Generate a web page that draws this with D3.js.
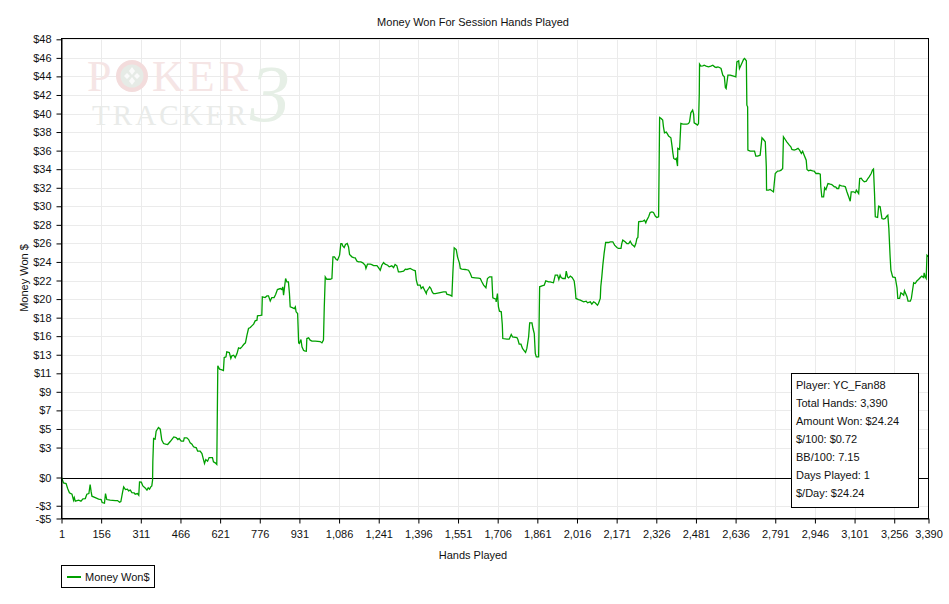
<!DOCTYPE html>
<html><head><meta charset="utf-8">
<script src="https://cdn.jsdelivr.net/npm/d3@7"></script>
<style>
body{margin:0;background:#fff}
svg{display:block}
text{font-family:"Liberation Sans",Arial,sans-serif}
text.wm{font-family:"Liberation Serif","DejaVu Serif",serif}
</style>
</head><body>
<svg id="c" width="949" height="604"></svg>
<script>
const title = "Money Won For Session Hands Played";
const xLabel = "Hands Played";
const yLabel = "Money Won $";
const seriesName = "Money Won$";

const hands = [1,9,19,25,32,42,48,51,55,68,77,85,94,100,108,113,117,120,133,146,156,160,169,173,178,191,211,220,228,233,240,244,251,259,263,270,276,285,289,298,303,306,313,319,328,335,340,345,350,354,357,358,361,367,371,380,387,393,400,408,416,426,432,440,449,456,461,469,478,481,491,498,504,511,517,528,533,543,550,556,560,565,572,578,591,595,602,608,610,612,619,628,634,637,644,647,657,663,667,674,680,687,693,700,706,713,720,726,732,739,745,752,758,765,767,778,784,
786,797,804,810,817,823,832,838,845,856,862,866,869,873,877,882,888,892,895,903,911,915,918,924,928,931,937,941,947,951,958,960,967,973,980,993,1012,1019,1025,1028,1032,1038,1051,1058,1062,1068,1075,1080,1088,1093,1097,1101,1106,1111,1118,1123,1127,1136,1143,1149,1156,1162,1171,1179,1188,1191,1197,1208,1214,1221,1234,1240,1247,1253,1260,1266,1276,1282,1292,1299,1305,1312,1318,1325,1338,1345,1351,1364,1377,1384,1388,1393,1403,1407,1414,1419,1427,1429,1436,1440,1445,1450,1455,1462,1481,1494,1504,1507,1520,1527,1531,1536,1544,1549,1557,1560,1566,1579,1592,1599,1605,1618,1631,1638,
1644,1651,1660,1666,1674,1683,1687,1692,1699,1700,1705,1709,1713,1720,1724,1726,1742,1751,1759,1764,1781,1785,1790,1797,1803,1810,1815,1820,1827,1831,1840,1844,1849,1853,1857,1866,1868,1870,1879,1888,1894,1905,1911,1924,1931,1940,1945,1950,1954,1961,1970,1974,1979,1983,1990,1997,2005,2009,2012,2022,2029,2042,2052,2057,2068,2074,2081,2087,2096,2100,2107,2109,2113,2117,2122,2128,2139,2146,2156,2163,2172,2178,2188,2191,2195,2204,2211,2218,2224,2231,2237,2241,2246,2250,2254,2257,2263,2274,2280,2285,2289,2296,2302,2309,2315,2322,2328,2335,
2337,2339,2345,2351,2354,2358,2365,2370,2374,2383,2387,2391,2394,2400,2404,2409,2410,2417,2422,2430,2446,2452,2456,2461,2468,2472,2474,2482,2487,2491,2494,2495,2500,2508,2513,2521,2530,2539,2547,2554,2560,2567,2573,2579,2586,2592,2596,2599,2602,2606,2615,2628,2637,2641,2648,2651,2657,2663,2667,2671,2678,2680,2683,2684,2693,2710,2715,2722,2732,2739,2745,2752,2756,2757,2765,2771,2778,2784,2787,2791,2800,2808,2814,2820,2823,2830,2836,2846,2852,2856,2865,2873,2880,2886,2893,2898,2904,2912,2915,2921,2928,2937,2943,2950,2960,2967,2969,2973,2980,2984,2989,2997,3006,3012,3022,3027,3032,3039,3042,3050,3058,3065,3071,3078,3084,3088,3097,3104,3108,3117,3121,3127,3132,3139,3147,3153,3158,3166,3171,3175,3179,3182,3191,3195,3201,3208,3214,3221,3227,3231,3235,3240,3243,3250,3260,3267,3270,3277,3282,3286,3293,3296,3302,3306,3310,3319,3323,3328,3332,3338,3345,3351,3358,3364,3371,3373,3377,3381,3384,3390];

const won = [0,-0.59,-0.66,-1.21,-1.68,-1.83,-2.49,-2.20,-2.60,-2.49,-2.60,-2.34,-2.31,-1.83,-1.76,-0.77,-1.58,-2.05,-2.20,-2.38,-2.42,-2.75,-2.82,-1.76,-2.42,-2.49,-2.53,-2.53,-2.71,-2.64,-1.58,-1.03,-1.32,-1.28,-1.47,-1.39,-1.65,-1.68,-1.83,-1.76,-1.94,-0.48,-0.51,-0.92,-1.14,-1.39,-1.14,-1.28,-1.03,-0.92,-0.29,1.72,4.28,4.21,5.09,5.49,5.31,4.10,3.73,3.66,3.62,3.95,4.17,4.46,4.39,4.17,4.28,3.99,3.99,4.35,4.35,4.17,3.80,3.66,3.37,3.26,2.89,2.89,2.63,1.97,1.54,1.97,1.79,2.19,2.19,1.72,1.61,1.43,6.84,12.26,11.89,11.82,11.75,13.17,13.25,13.80,13.72,13.07,13.36,13.43,13.17,13.61,14.24,14.16,14.35,14.60,14.79,15.63,16.36,16.47,16.65,16.84,17.20,17.27,17.75,17.79,17.82,
19.83,19.76,19.94,19.94,19.39,19.76,19.76,20.09,20.64,20.75,20.64,20.93,20.02,20.93,21.85,21.48,21.48,20.20,18.74,18.66,18.55,18.74,18.19,18.00,14.78,14.71,15.15,14.35,13.98,13.91,13.87,15.26,15.33,15.08,14.97,14.97,14.93,14.78,15.08,18.55,22.03,21.77,21.77,21.85,24.23,24.23,23.93,23.86,24.41,25.69,25.69,25.40,25.25,25.58,25.69,25.32,24.48,24.23,24.15,24.12,23.75,23.68,23.68,23.57,23.31,22.95,23.42,23.42,23.38,23.27,23.27,23.05,22.76,23.31,23.60,23.42,23.31,23.13,23.24,23.05,23.38,23.24,22.58,22.58,22.65,22.87,22.84,22.95,22.76,22.69,21.66,21.12,21.12,20.75,20.93,20.64,20.20,20.46,20.75,20.93,20.75,20.38,20.20,20.20,20.31,20.38,20.38,20.13,20.02,19.91,22.58,25.21,25.03,24.23,23.49,22.95,22.87,22.84,22.76,22.40,21.96,21.92,21.88,21.85,
21.49,21.12,20.83,21.85,22.03,22.03,19.73,19.66,19.58,19.29,20.20,18.74,18.26,18.19,16.80,15.26,15.19,15.19,15.70,15.45,15.37,15.15,14.64,14.64,14.17,13.91,13.73,14.17,15.45,16.98,16.98,16.36,15.81,13.62,13.25,13.25,17.09,20.94,21.05,21.12,21.59,21.49,21.49,21.38,22.22,22.22,21.74,22.22,21.96,21.85,21.85,22.66,22.03,21.92,22.11,21.96,21.59,20.68,19.66,19.54,19.47,19.29,19.36,19.18,19.29,19.03,19.29,19.18,18.92,19.11,19.66,20.94,22.03,23.32,24.60,25.80,25.80,25.88,25.88,25.51,25.25,25.15,25.15,25.69,26.06,25.88,25.69,25.69,25.95,25.58,25.44,25.33,25.69,26.24,26.35,28.07,28.11,28.15,28.26,27.96,28.26,28.62,29.10,29.17,29.10,28.70,28.55,28.62,
34.11,39.53,39.42,39.24,38.50,37.85,37.92,37.70,37.48,37.30,36.49,35.58,35.03,34.92,35.03,34.19,36.13,36.02,38.87,38.80,38.80,38.87,39.05,40.04,40.33,39.89,38.94,38.80,38.69,38.87,42.16,45.39,45.17,45.20,45.27,45.17,45.09,45.17,45.27,45.09,45.02,45.09,45.02,44.91,44.18,43.99,42.82,42.71,43.34,44.18,44.18,44.07,43.99,45.64,45.75,44.91,45.27,45.64,45.90,46.01,45.75,40.88,40.70,35.94,35.83,35.83,35.28,35.28,35.39,37.30,37.11,36.86,34.11,31.55,31.55,31.62,31.48,31.37,32.28,33.38,33.64,33.67,33.75,33.93,37.41,37.11,36.86,36.49,36.31,36.02,35.94,36.02,36.13,35.94,35.58,35.83,35.39,34.84,33.82,33.67,33.75,33.67,33.64,33.38,33.38,33.31,31.92,30.82,30.82,31.81,31.62,32.28,32.21,32.17,31.92,31.92,31.73,31.73,32.10,32.03,31.99,31.92,31.37,30.82,30.34,31.37,31.37,31.26,31.55,31.18,32.83,32.87,32.65,32.47,32.54,32.83,33.01,33.38,33.75,33.86,31.18,28.62,28.55,29.79,29.72,28.44,28.37,28.44,28.70,28.81,27.34,24.23,22.77,22.03,21.96,20.83,19.66,19.66,20.28,20.20,20.02,20.50,20.13,19.84,19.36,19.36,19.66,20.64,21.38,21.30,21.60,21.74,21.96,22.11,21.96,22.47,22.03,21.85,24.41,24.24];

const xTicks = [1,156,311,466,621,776,931,1086,1241,1396,1551,1706,1861,2016,2171,2326,2481,2636,2791,2946,3101,3256,3390];
const yTickValues = [-4.5,-3.1,0,3.29,5.33,7.37,9.41,11.44,13.48,15.52,17.55,19.59,21.63,23.67,25.70,27.74,29.78,31.81,33.85,35.89,37.93,39.96,42.00,44.04,46.07,48.11];
const yTickLabels = ["-$5","-$3","$0","$3","$5","$7","$9","$11","$13","$16","$18","$20","$22","$24","$26","$28","$30","$32","$34","$36","$38","$40","$42","$44","$46","$48"];
const statsLines = ["Player: YC_Fan88","Total Hands: 3,390","Amount Won: $24.24","$/100: $0.72","BB/100: 7.15","Days Played: 1","$/Day: $24.24"];

const svg = d3.select("#c");
const L = 61.5, R = 928.5, T = 38.5, B = 518.5;
const x = d3.scaleLinear().domain([1, 3390]).range([L, R]);
const y = d3.scaleLinear().domain([-4.5, 48.2]).range([B, T]);

// title
svg.append("text").attr("x", 473).attr("y", 25.5).attr("text-anchor", "middle")
  .attr("font-size", 11).attr("fill", "#111").text(title);

// gridlines
const grid = svg.append("g");
grid.selectAll("line.v").data(xTicks.slice(1, -1)).enter().append("line")
  .attr("x1", d => Math.round(x(d)) + 0.5).attr("x2", d => Math.round(x(d)) + 0.5)
  .attr("y1", T).attr("y2", B).attr("stroke", "#ebebeb").attr("stroke-width", 1);
grid.selectAll("line.h").data(yTickValues.filter(v => v !== 0 && v !== -4.5)).enter().append("line")
  .attr("x1", L).attr("x2", R)
  .attr("y1", d => Math.round(y(d)) + 0.5).attr("y2", d => Math.round(y(d)) + 0.5)
  .attr("stroke", "#ebebeb").attr("stroke-width", 1);

// watermark
const wm = svg.append("g");
wm.append("text").attr("class", "wm").attr("x", 87).attr("y", 91).attr("font-size", 44).attr("fill", "#f5e5e5").text("P");
const chip = wm.append("g");
chip.append("circle").attr("cx", 132).attr("cy", 76).attr("r", 16).attr("fill", "#f3dcdc");
chip.append("circle").attr("cx", 132).attr("cy", 76).attr("r", 11.5).attr("fill", "#e6ebe6");
chip.append("path").attr("d", "M132,67 L135,71 L132,75 L129,71 Z M132,77 L135,81 L132,85 L129,81 Z M124,76 L127,73 L130,76 L127,79 Z M134,76 L137,73 L140,76 L137,79 Z").attr("fill", "#fafafa");
wm.append("text").attr("class", "wm").attr("x", 152).attr("y", 91).attr("font-size", 44).attr("fill", "#f5e5e5")
  .attr("textLength", 96).attr("lengthAdjust", "spacing").text("KER");
wm.append("text").attr("class", "wm").attr("x", 250).attr("y", 121).attr("font-size", 80).attr("font-style", "italic")
  .attr("fill", "#e6efe6").text("3");
wm.append("text").attr("class", "wm").attr("x", 92).attr("y", 125).attr("font-size", 29).attr("fill", "#e9ebe9")
  .attr("textLength", 154).attr("lengthAdjust", "spacing").text("TRACKER");

// zero line
svg.append("line").attr("x1", L).attr("x2", R).attr("y1", Math.round(y(0)) + 0.5).attr("y2", Math.round(y(0)) + 0.5)
  .attr("stroke", "#000").attr("stroke-width", 1);

// data line
const pts = hands.map((h, i) => [h, won[i]]);
svg.append("path").datum(pts)
  .attr("d", d3.line().x(d => x(d[0])).y(d => y(d[1])))
  .attr("fill", "none").attr("stroke", "#00a000").attr("stroke-width", 1.3).attr("stroke-linejoin", "miter");

// border
svg.append("rect").attr("x", L).attr("y", T).attr("width", R - L).attr("height", B - T)
  .attr("fill", "none").attr("stroke", "#000").attr("stroke-width", 1);

// axes
const yAxis = svg.append("g").attr("transform", `translate(${L},0)`)
  .call(d3.axisLeft(y).tickValues(yTickValues).tickFormat((d, i) => yTickLabels[i]).tickSize(5).tickSizeOuter(0).tickPadding(5));
yAxis.select(".domain").attr("stroke", "#000");
yAxis.selectAll(".tick line").attr("stroke", "#000");
yAxis.selectAll(".tick text").attr("font-size", 11).attr("fill", "#111").attr("font-family", null);

const xAxis = svg.append("g").attr("transform", `translate(0,${B})`)
  .call(d3.axisBottom(x).tickValues(xTicks).tickFormat(d3.format(",")).tickSize(5).tickSizeOuter(0).tickPadding(7));
xAxis.select(".domain").attr("stroke", "#000");
xAxis.selectAll(".tick line").attr("stroke", "#000");
xAxis.selectAll(".tick text").attr("font-size", 11).attr("fill", "#111").attr("font-family", null);

// axis labels
svg.append("text").attr("x", 473).attr("y", 559).attr("text-anchor", "middle").attr("font-size", 11).attr("fill", "#111").text(xLabel);
svg.append("text").attr("transform", "translate(28,278) rotate(-90)").attr("text-anchor", "middle").attr("font-size", 11).attr("fill", "#111").text(yLabel);

// stats box
const sb = svg.append("g");
sb.append("rect").attr("x", 791.5).attr("y", 373.5).attr("width", 127).attr("height", 134)
  .attr("fill", "#fff").attr("stroke", "#000").attr("stroke-width", 1);
sb.selectAll("text").data(statsLines).enter().append("text")
  .attr("x", 796).attr("y", (d, i) => 389 + i * 18).attr("font-size", 11).attr("fill", "#111").text(d => d);

// legend
const lg = svg.append("g");
lg.append("rect").attr("x", 61.5).attr("y", 565.5).attr("width", 93).attr("height", 22)
  .attr("fill", "#fff").attr("stroke", "#000").attr("stroke-width", 1);
lg.append("line").attr("x1", 67).attr("x2", 81).attr("y1", 577).attr("y2", 577).attr("stroke", "#00a000").attr("stroke-width", 2);
lg.append("text").attr("x", 85).attr("y", 581).attr("font-size", 11).attr("fill", "#111").text(seriesName);
</script>
</body></html>
